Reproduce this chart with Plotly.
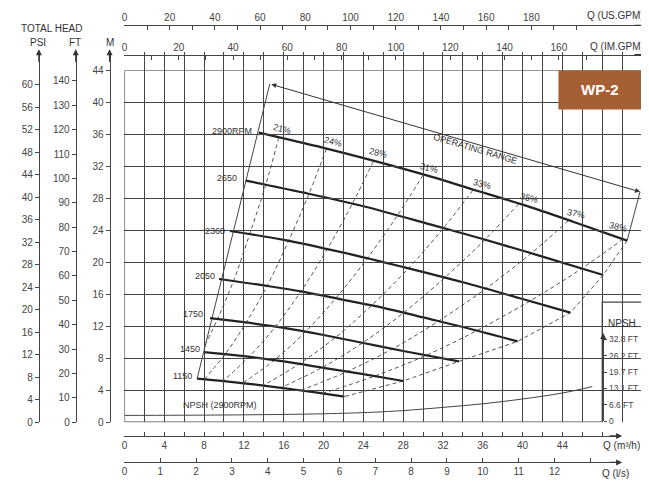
import plotly.graph_objects as go

# the page body adds an 8px margin, so the figure is drawn 8px smaller
PAD = 8
W, HT = 649 - PAD, 491 - PAD
FONT = "Arial, 'Liberation Sans', sans-serif"
INK = "#333333"

# ---- speed curves: flow Q (m3/h) vs total head (m)
speed_names = ["2900RPM", "2650", "2360", "2050", "1750", "1450", "1150"]
q_2900 = [13.5, 20, 25, 30.8, 35, 40, 45, 50.5]
h_2900 = [36.2, 34.3, 32.7, 30.7, 29.1, 27.2, 25.1, 22.7]
q_2650 = [12.2, 18, 24, 30.8, 36, 42, 48.1]
h_2650 = [30.2, 28.7, 27.0, 24.7, 22.9, 20.7, 18.4]
q_2360 = [10.6, 16, 22, 28, 34, 40, 44.8]
h_2360 = [23.9, 22.8, 21.2, 19.4, 17.5, 15.4, 13.7]
q_2050 = [9.5, 14, 18, 22, 26, 30, 34, 39.5]
h_2050 = [17.9, 17.1, 16.3, 15.3, 14.3, 13.1, 11.9, 10.1]
q_1750 = [8.6, 12, 16, 20, 24, 28, 33.6]
h_1750 = [13.0, 12.5, 11.8, 10.9, 9.9, 8.9, 7.6]
q_1450 = [8.0, 12, 16, 20, 24, 28]
h_1450 = [8.75, 8.25, 7.6, 6.8, 6.0, 5.15]
q_1150 = [7.3, 10, 13, 16, 19, 22.1]
h_1150 = [5.45, 5.13, 4.72, 4.25, 3.75, 3.2]
speed_q = [q_2900, q_2650, q_2360, q_2050, q_1750, q_1450, q_1150]
speed_h = [h_2900, h_2650, h_2360, h_2050, h_1750, h_1450, h_1150]
speed_label_pos = [(13.0, 36.4), (11.5, 30.5), (10.3, 23.9), (9.3, 18.3),
                   (8.1, 13.5), (7.8, 9.1), (7.0, 5.8)]

# ---- iso-efficiency lines
eff_names = ["21%", "24%", "28%", "31%", "33%", "35%", "37%", "38%"]
eff_q = [
    [15.5, 14.2, 12.6, 11.0, 9.35, 8.2],
    [20.3, 18.55, 16.5, 14.35, 12.2, 10.15, 8.05],
    [25.0, 22.85, 20.35, 17.7, 15.1, 12.5, 9.9],
    [30.0, 27.4, 24.4, 21.2, 18.1, 15.0, 11.9],
    [35.0, 32.0, 28.5, 24.75, 21.1, 17.5, 13.9],
    [39.6, 36.2, 32.2, 28.0, 23.9, 19.8, 15.7],
    [44.6, 40.8, 36.3, 31.5, 26.9, 22.3, 17.7],
    [50.1, 45.8, 40.8, 35.4, 30.2, 25.0, 19.9],
]
eff_h = [
    [35.6, 29.7, 23.6, 17.8, 12.9, 9.9],
    [34.2, 28.6, 22.7, 17.1, 12.4, 8.55, 5.4],
    [32.6, 27.2, 21.6, 16.3, 11.85, 8.15, 5.15],
    [30.9, 25.8, 20.5, 15.45, 11.2, 7.7, 4.9],
    [29.0, 24.2, 19.2, 14.5, 10.5, 7.25, 4.55],
    [27.3, 22.8, 18.1, 13.65, 9.9, 6.8, 4.3],
    [25.2, 21.05, 16.7, 12.6, 9.15, 6.3, 3.97],
    [22.9, 19.1, 15.2, 11.45, 8.3, 5.7, 3.6],
]
eff_label_pos = [(15.8, 36.6), (21.0, 35.0), (25.5, 33.6), (30.6, 31.8),
                 (35.9, 29.8), (40.6, 28.0), (45.4, 26.0), (49.6, 24.4)]

# ---- operating range outline
range_top = [(14.6, 42.3), (51.8, 28.8)]
left_q = [14.6, 7.3]
left_h = [42.3, 5.45]
right_top_q = [51.8, 50.5]
right_top_h = [28.8, 22.7]
right_q = [50.5, 48.1, 44.8, 39.5, 33.6, 28.0, 22.1]
right_h = [22.7, 18.4, 13.7, 10.1, 7.6, 5.15, 3.2]

# ---- NPSH at 2900 rpm (m)
npsh_q = [0, 10, 20, 25, 28, 32, 36, 40, 44, 47]
npsh_h = [0.85, 0.9, 1.05, 1.25, 1.45, 1.85, 2.3, 2.9, 3.65, 4.45]

# ---- tick labels of the scales
m3h_ticks = list(range(0, 49, 2))
m3h_labels = [0, 4, 8, 12, 16, 20, 24, 28, 32, 36, 40, 44]
ls_ticks = list(range(0, 14))
ls_labels = list(range(0, 13))
usgpm_ticks = list(range(0, 201, 10))
usgpm_labels = [0, 20, 40, 60, 80, 100, 120, 140, 160, 180]
imgpm_ticks = list(range(0, 171, 10))
imgpm_labels = [0, 20, 40, 60, 80, 100, 120, 140, 160]
m_labels = list(range(0, 45, 4))
ft_labels = list(range(0, 141, 10))
psi_labels = list(range(0, 61, 4))
npsh_tick_m = [0, 2, 4, 6, 8, 10]
npsh_tick_text = ["0", "6.6 FT", "13.1 FT", "19.7 FT", "26.2 FT", "32.8 FT"]


def fx(p):
    return (p - PAD) / W


def fy(p):
    return 1 - (p - PAD) / HT


def txt(vals, keep):
    return [str(v) if v in keep else "" for v in vals]


fig = go.Figure()

for q, h in zip(eff_q, eff_h):
    fig.add_trace(go.Scatter(x=q, y=h, mode="lines", line_shape="spline",
                             line=dict(color="#555", width=1, dash="4px,3px"),
                             hoverinfo="skip", showlegend=False))

fig.add_trace(go.Scatter(x=right_q, y=right_h, mode="lines",
                         line=dict(color="#555", width=1, dash="4px,3px"),
                         hoverinfo="skip", showlegend=False))
fig.add_trace(go.Scatter(x=right_top_q, y=right_top_h, mode="lines",
                         line=dict(color="#444", width=1),
                         hoverinfo="skip", showlegend=False))
fig.add_trace(go.Scatter(x=left_q, y=left_h, mode="lines",
                         line=dict(color="#444", width=1),
                         hoverinfo="skip", showlegend=False))
fig.add_trace(go.Scatter(x=npsh_q, y=npsh_h, mode="lines", line_shape="spline",
                         line=dict(color="#444", width=1),
                         hoverinfo="skip", showlegend=False))

for q, h in zip(speed_q, speed_h):
    fig.add_trace(go.Scatter(x=q, y=h, mode="lines", line_shape="spline",
                             line=dict(color="#222", width=2.2),
                             hoverinfo="skip", showlegend=False))

# empty traces so every extra scale gets drawn
for xa, ya in [("x2", "y"), ("x3", "y"), ("x4", "y"), ("x5", "y"),
               ("x", "y2"), ("x", "y3"), ("x", "y4"), ("x", "y5")]:
    fig.add_trace(go.Scatter(x=[None], y=[None], xaxis=xa, yaxis=ya,
                             hoverinfo="skip", showlegend=False))

tickfont = dict(family=FONT, size=10, color="#444")
aux = dict(showgrid=False, zeroline=False, showline=True, linecolor="#444",
           linewidth=1, tickcolor="#444", ticklen=4, tickfont=tickfont,
           tickmode="array", anchor="free", fixedrange=True)

bottom_w = (618 - 122) / 10.0
top_w = (645 - 122) / 10.0
left_h_m = (427 - 50) / 8.15

fig.update_layout(
    width=W, height=HT,
    margin=dict(l=0, r=0, t=0, b=0),
    paper_bgcolor="white", plot_bgcolor="rgba(0,0,0,0)",
    font=dict(family=FONT, size=10, color=INK),
    xaxis=dict(domain=[fx(122), fx(642)], range=[0, 52], dtick=2, tick0=0,
               showgrid=True, gridcolor="#444", gridwidth=1,
               showticklabels=False, ticks="", zeroline=False, showline=False,
               fixedrange=True),
    yaxis=dict(domain=[fy(427), fy(68.4)], range=[0, 44], dtick=4, tick0=0,
               showgrid=True, gridcolor="#444", gridwidth=1,
               showticklabels=False, ticks="", zeroline=False, showline=False,
               fixedrange=True),
    xaxis2=dict(aux, domain=[fx(122), fx(618)], range=[0, bottom_w],
                position=fy(441), side="bottom", ticks="inside",
                tickvals=m3h_ticks, ticktext=txt(m3h_ticks, m3h_labels)),
    xaxis3=dict(aux, domain=[fx(122), fx(618)], range=[0, bottom_w / 3.6],
                position=fy(468), side="bottom", ticks="inside",
                tickvals=ls_ticks, ticktext=txt(ls_ticks, ls_labels)),
    xaxis4=dict(aux, domain=[fx(122), fx(645)], range=[0, top_w * 4.403],
                position=fy(22.5), side="top", ticks="inside",
                tickvals=usgpm_ticks, ticktext=txt(usgpm_ticks, usgpm_labels)),
    xaxis5=dict(aux, domain=[fx(122), fx(645)], range=[0, top_w * 3.666],
                position=fy(52.5), side="top", ticks="inside",
                tickvals=imgpm_ticks, ticktext=txt(imgpm_ticks, imgpm_labels)),
    yaxis2=dict(aux, domain=[fy(427), fy(50)], range=[0, left_h_m],
                position=fx(107), side="left", ticks="outside",
                tickvals=m_labels, ticktext=[str(v) for v in m_labels]),
    yaxis3=dict(aux, domain=[fy(427), fy(50)], range=[0, left_h_m * 3.281],
                position=fx(73), side="left", ticks="outside",
                tickvals=ft_labels, ticktext=[str(v) for v in ft_labels]),
    yaxis4=dict(aux, domain=[fy(427), fy(50)], range=[0, left_h_m * 1.422],
                position=fx(36), side="left", ticks="outside",
                tickvals=psi_labels, ticktext=[str(v) for v in psi_labels]),
    yaxis5=dict(aux, domain=[fy(426), fy(340)], range=[0, 10.3],
                position=fx(603), side="right", ticks="outside", ticklen=3,
                tickfont=dict(family=FONT, size=8.5, color="#444"),
                tickvals=npsh_tick_m, ticktext=npsh_tick_text),
)

# grid cut-out for the NPSH scale, frame and model badge
fig.add_shape(type="rect", xref="x", yref="y", x0=48, x1=52, y0=0, y1=15,
              fillcolor="white", line=dict(width=0), layer="between")
fig.add_shape(type="path", xref="x", yref="y",
              path="M 0,0 L 48,0 L 48,15 L 52,15 L 52,44 L 0,44 Z",
              line=dict(color="#444", width=1.2), layer="between")
fig.add_shape(type="rect", xref="x", yref="y", x0=43.6, x1=52, y0=39.1, y1=44,
              fillcolor="#a65f35", line=dict(width=0), layer="above")

ann = []
ann.append(dict(xref="x", yref="y", x=47.8, y=41.55, text="<b>WP-2</b>",
                showarrow=False, font=dict(size=15, color="white")))

for name, (x, y) in zip(speed_names, speed_label_pos):
    ann.append(dict(xref="x", yref="y", x=x, y=y, text=name, xanchor="right",
                    showarrow=False, font=dict(size=9, color=INK)))
for name, (x, y) in zip(eff_names, eff_label_pos):
    ann.append(dict(xref="x", yref="y", x=x, y=y, text=name, textangle=14,
                    showarrow=False, font=dict(size=9, color=INK)))

ann.append(dict(xref="x", yref="y", x=range_top[1][0], y=range_top[1][1],
                axref="x", ayref="y", ax=range_top[0][0], ay=range_top[0][1],
                text="", showarrow=True, arrowhead=2, arrowsize=1,
                arrowwidth=1, arrowside="end+start", arrowcolor="#333"))
ann.append(dict(xref="x", yref="y", x=35.3, y=34.2, text="OPERATING RANGE",
                textangle=16.5, showarrow=False, font=dict(size=9, color=INK)))
ann.append(dict(xref="x", yref="y", x=9.6, y=2.2, text="NPSH (2900RPM)",
                showarrow=False, font=dict(size=9, color=INK)))

# scale titles
for text, x, y, anchor in [("TOTAL HEAD", 49, 26, "center"), ("PSI", 35, 40, "center"),
                           ("FT", 72, 40, "center"), ("M", 107, 40, "center"),
                           ("Q (US.GPM)", 646, 13, "right"),
                           ("Q (IM.GPM)", 646, 44, "right"),
                           ("Q (m³/h)", 601, 451, "left"),
                           ("Q (l/s)", 600, 479, "left"),
                           ("NPSH", 606, 326, "left")]:
    ann.append(dict(xref="paper", yref="paper", x=fx(x), y=fy(y), text=text,
                    xanchor=anchor, yanchor="middle", showarrow=False,
                    font=dict(size=10, color=INK)))

# arrow heads on the scale lines
for x, y, ax, ay in [(36, 47, 0, 14), (73, 47, 0, 14), (107, 47, 0, 14),
                     (603, 336, 0, 12), (647, 22.5, -14, 0), (647, 52.5, -14, 0),
                     (622, 441, -14, 0), (622, 468, -14, 0)]:
    ann.append(dict(xref="paper", yref="paper", x=fx(x), y=fy(y), ax=ax, ay=ay,
                    text="", showarrow=True, arrowhead=2, arrowsize=1,
                    arrowwidth=1.2, arrowcolor="#333"))

fig.update_layout(annotations=ann)
fig.write_html("out.html")
